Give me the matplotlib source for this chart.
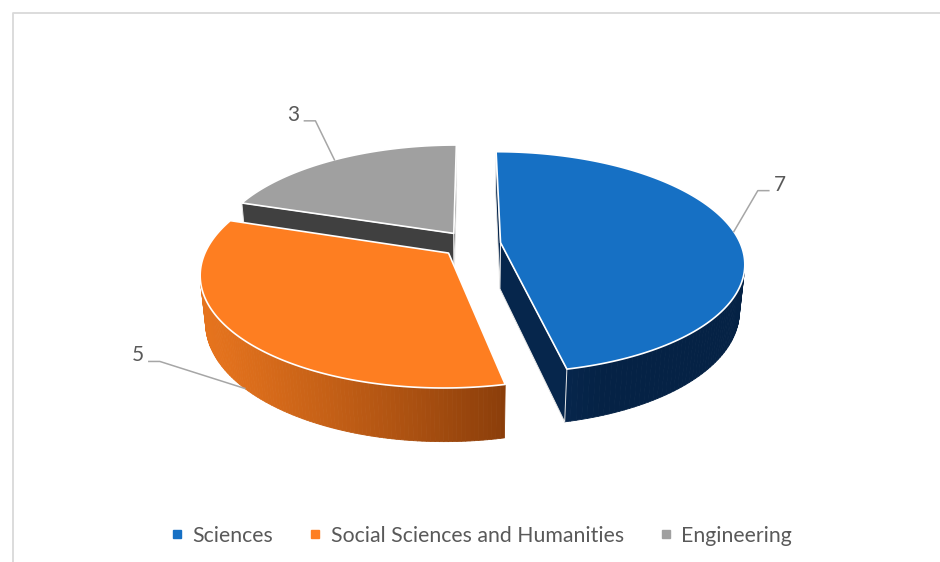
import numpy as np
import matplotlib.pyplot as plt
from matplotlib.patches import Polygon
from matplotlib.collections import PolyCollection
from matplotlib.lines import Line2D
from matplotlib.colors import to_rgb

plt.rcParams['font.family'] = ['Lato', 'DejaVu Sans']

categories = ['Sciences', 'Social Sciences and Humanities', 'Engineering']
values = [7, 5, 3]
top_colors = ['#1670C4', '#FE7E21', '#A0A0A0']
wall_light = ['#0B3A70', '#E5731D', '#8C8C8C']
wall_dark = ['#052245', '#7C3507', '#404040']
side_colors = ['#06264C', '#8A3C0A', '#404040']
label_offsets = [(24, -41), (-85, -27), (-19, -39)]  # elbow of leader, px from anchor

# 3d view (pie radius = 1)
cx, cy = 471, 244          # screen position of pie centre (top face)
elev = np.radians(26.6)
dist = 5.05
focal = 240 * dist
thick = 0.22
explode = 0.124
light = np.radians(20)
cam = np.array([0, dist * np.sin(elev), dist * np.cos(elev)])


def project(X, Y, Z):
    yv = Y * np.cos(elev) - Z * np.sin(elev)
    depth = dist - Z * np.cos(elev) - Y * np.sin(elev)
    return cx + focal * X / depth, cy - focal * yv / depth


def facing(normal, point):
    return np.dot(normal, cam - np.asarray(point)) > 0


fig = plt.figure(figsize=(9.4, 5.62), dpi=100)
ax = fig.add_axes([0, 0, 1, 1])
ax.set_xlim(0, 940)
ax.set_ylim(562, 0)
ax.axis('off')

# chart area border
ax.plot([13, 13, 940], [562, 13, 13], color='#D9D9D9', lw=1.3)

total = sum(values)
spans = [v / total * 360 for v in values]
starts = np.concatenate([[0], np.cumsum(spans)[:-1]])
mids = [s + w / 2 for s, w in zip(starts, spans)]

# back slices first
order = sorted(range(len(values)), key=lambda i: -np.cos(np.radians(mids[i])))

for i in order:
    t0, t1 = starts[i], starts[i] + spans[i]
    tm = np.radians(mids[i])
    ox, oz = explode * np.sin(tm), -explode * np.cos(tm)
    th = np.radians(np.linspace(t0, t1, 140))
    rx = ox + np.sin(th)
    rz = oz - np.cos(th)

    # outer wall
    quads, cols = [], []
    for j in range(len(th) - 1):
        a = (th[j] + th[j + 1]) / 2
        n = np.array([np.sin(a), 0, -np.cos(a)])
        p = [(rx[j] + rx[j + 1]) / 2, -thick / 2, (rz[j] + rz[j + 1]) / 2]
        if not facing(n, p):
            continue
        xs, ys = project(np.array([rx[j], rx[j + 1], rx[j + 1], rx[j]]),
                         np.array([0, 0, -thick, -thick]),
                         np.array([rz[j], rz[j + 1], rz[j + 1], rz[j]]))
        quads.append(np.column_stack([xs, ys]))
        t = np.clip(-np.sin(a + light), 0, 1)
        c = np.array(to_rgb(wall_dark[i])) * (1 - t) + np.array(to_rgb(wall_light[i])) * t
        cols.append(c)
    if quads:
        ax.add_collection(PolyCollection(quads, facecolors=cols, edgecolors=cols, lw=0.6))

    # radial faces
    for ang, sgn in ((t0, -1), (t1, 1)):
        a = np.radians(ang)
        n = np.array([sgn * np.cos(a), 0, sgn * np.sin(a)])
        ex, ez = ox + np.sin(a), oz - np.cos(a)
        p = [(ox + ex) / 2, -thick / 2, (oz + ez) / 2]
        if not facing(n, p):
            continue
        xs, ys = project(np.array([ox, ex, ex, ox]),
                         np.array([0, 0, -thick, -thick]),
                         np.array([oz, ez, ez, oz]))
        ax.add_patch(Polygon(np.column_stack([xs, ys]), closed=True,
                             facecolor=side_colors[i], edgecolor='#E8E8E8', lw=0.7))

    # top face
    xs, ys = project(np.concatenate([[ox], rx]), np.zeros(len(rx) + 1),
                     np.concatenate([[oz], rz]))
    ax.add_patch(Polygon(np.column_stack([xs, ys]), closed=True,
                         facecolor=top_colors[i], edgecolor='white', lw=1.2,
                         joinstyle='round'))

# data labels with leader lines
for i in range(len(values)):
    tm = np.radians(mids[i])
    ox, oz = explode * np.sin(tm), -explode * np.cos(tm)
    zb = -np.cos(tm)
    y_anchor = 0 if zb < 0 else -thick
    axp, ayp = project(ox + np.sin(tm), y_anchor, oz - np.cos(tm))
    dx, dy = label_offsets[i]
    ex, ey = axp + dx, ayp + dy
    side = 1 if dx > 0 else -1
    ax.plot([axp, ex, ex + side * 11], [ayp, ey, ey], color='#A6A6A6', lw=1.1)
    ax.text(ex + side * 16, ey - 6, str(values[i]), color='#595959', fontsize=15,
            ha='left' if side > 0 else 'right', va='center')

handles = [Line2D([], [], marker='s', linestyle='none', markersize=5.5,
                  color=c) for c in top_colors]
fig.legend(handles, categories, loc='center', bbox_to_anchor=(0.513, 0.047),
           ncol=3, frameon=False, fontsize=15.3, labelcolor='#595959',
           handlelength=0.45, handletextpad=0.5, columnspacing=1.75)

fig.savefig('out.png', dpi=100)
